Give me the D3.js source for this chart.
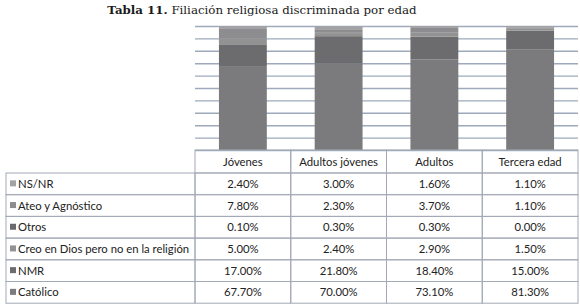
<!DOCTYPE html>
<html>
<head>
<meta charset="utf-8">
<script src="https://cdn.jsdelivr.net/npm/d3@7"></script>
<style>
  body { margin: 0; background: #fff; }
  svg { display: block; }
</style>
</head>
<body>
<svg id="chart" width="580" height="307"></svg>
<script>
const groups = ["Jóvenes", "Adultos jóvenes", "Adultos", "Tercera edad"];
// series from bottom of the stack to top
const series = ["Católico", "NMR", "Creo en Dios pero no en la religión", "Otros", "Ateo y Agnóstico", "NS/NR"];
const catolico = [67.7, 70.0, 73.1, 81.3];
const nmr = [17.0, 21.8, 18.4, 15.0];
const creo = [5.0, 2.4, 2.9, 1.5];
const otros = [0.1, 0.3, 0.3, 0.0];
const ateo = [7.8, 2.3, 3.7, 1.1];
const nsnr = [2.4, 3.0, 1.6, 1.1];
const seriesValues = [catolico, nmr, creo, otros, ateo, nsnr];
const seriesColors = ["#7b7b7d", "#6c6c6e", "#929292", "#6a6a6a", "#8d8d8f", "#a2a2a4"];
// table rows are listed top to bottom (reverse of stack)
const tableOrder = [5, 4, 3, 2, 1, 0];

const svg = d3.select("#chart");

// title
const title = svg.append("text")
    .attr("x", 262)
    .attr("y", 14)
    .attr("text-anchor", "middle")
    .style("font-family", "'DejaVu Serif', serif")
    .style("font-size", "11.8px")
    .attr("fill", "#1a1a1a");
title.append("tspan").attr("font-weight", "bold").text("Tabla 11.");
title.append("tspan").text(" Filiación religiosa discriminada por edad");

const plotLeft = 195, plotRight = 578, plotTop = 26, plotBottom = 150;

const x = d3.scaleBand()
    .domain(groups)
    .range([plotLeft, plotRight])
    .paddingInner(0.5)
    .paddingOuter(0.25);

const y = d3.scaleLinear()
    .domain([0, 100])
    .range([plotBottom, plotTop]);

// grid lines
svg.append("g")
    .attr("transform", `translate(${plotLeft},0)`)
    .call(d3.axisLeft(y).ticks(10).tickSize(-(plotRight - plotLeft)).tickFormat(""))
    .call(g => g.select(".domain").remove())
    .call(g => g.selectAll(".tick line").attr("stroke", "#9eaabb").attr("stroke-width", 1.4));

// stacked bars
const rows = groups.map((g, i) => {
    const r = { group: g };
    series.forEach((s, j) => r[s] = seriesValues[j][i]);
    return r;
});
const stacked = d3.stack().keys(series)(rows);

svg.append("g")
    .selectAll("g")
    .data(stacked)
    .enter().append("g")
    .attr("fill", (d, i) => seriesColors[i])
    .selectAll("rect")
    .data(d => d)
    .enter().append("rect")
    .attr("x", d => x(d.data.group))
    .attr("width", x.bandwidth())
    .attr("y", d => y(Math.min(100, d[1])))
    .attr("height", d => Math.max(0, y(d[0]) - y(Math.min(100, d[1]))));

// data table
const font = "Lato, 'Open Sans', sans-serif";
const fontSize = "11.3px";
const textColor = "#222";
const lineColor = "#a3a9b6";
const tableLeft = 6, headerTop = plotBottom, headerBottom = 173, rowH = 21.7;
const colEdges = [plotLeft].concat(groups.map(g => x(g) + x.bandwidth() + x.step() * 0.25));
colEdges[colEdges.length - 1] = plotRight;

const table = svg.append("g");

// header cells
groups.forEach((g, i) => {
    table.append("rect")
        .attr("x", colEdges[i]).attr("y", headerTop)
        .attr("width", colEdges[i + 1] - colEdges[i]).attr("height", headerBottom - headerTop)
        .attr("fill", "none").attr("stroke", lineColor);
    table.append("text")
        .attr("x", x(g) + x.bandwidth() / 2)
        .attr("y", headerTop + 16)
        .attr("text-anchor", "middle")
        .style("font-family", font).style("font-size", fontSize)
        .attr("fill", textColor)
        .text(g);
});

tableOrder.forEach((si, r) => {
    const ry = headerBottom + r * rowH;
    table.append("rect")
        .attr("x", tableLeft).attr("y", ry)
        .attr("width", plotLeft - tableLeft).attr("height", rowH)
        .attr("fill", "none").attr("stroke", lineColor);
    table.append("rect")
        .attr("x", tableLeft + 4).attr("y", ry + rowH / 2 - 3.5)
        .attr("width", 6).attr("height", 6)
        .attr("fill", seriesColors[si]);
    table.append("text")
        .attr("x", tableLeft + 12)
        .attr("y", ry + rowH / 2 + 4)
        .style("font-family", font).style("font-size", fontSize)
        .attr("fill", textColor)
        .text(series[si]);
    groups.forEach((g, i) => {
        table.append("rect")
            .attr("x", colEdges[i]).attr("y", ry)
            .attr("width", colEdges[i + 1] - colEdges[i]).attr("height", rowH)
            .attr("fill", "none").attr("stroke", lineColor);
        table.append("text")
            .attr("x", x(g) + x.bandwidth() / 2)
            .attr("y", ry + rowH / 2 + 4)
            .attr("text-anchor", "middle")
            .style("font-family", font).style("font-size", fontSize)
            .attr("fill", textColor)
            .text(seriesValues[si][i].toFixed(2) + "%");
    });
});
</script>
</body>
</html>
